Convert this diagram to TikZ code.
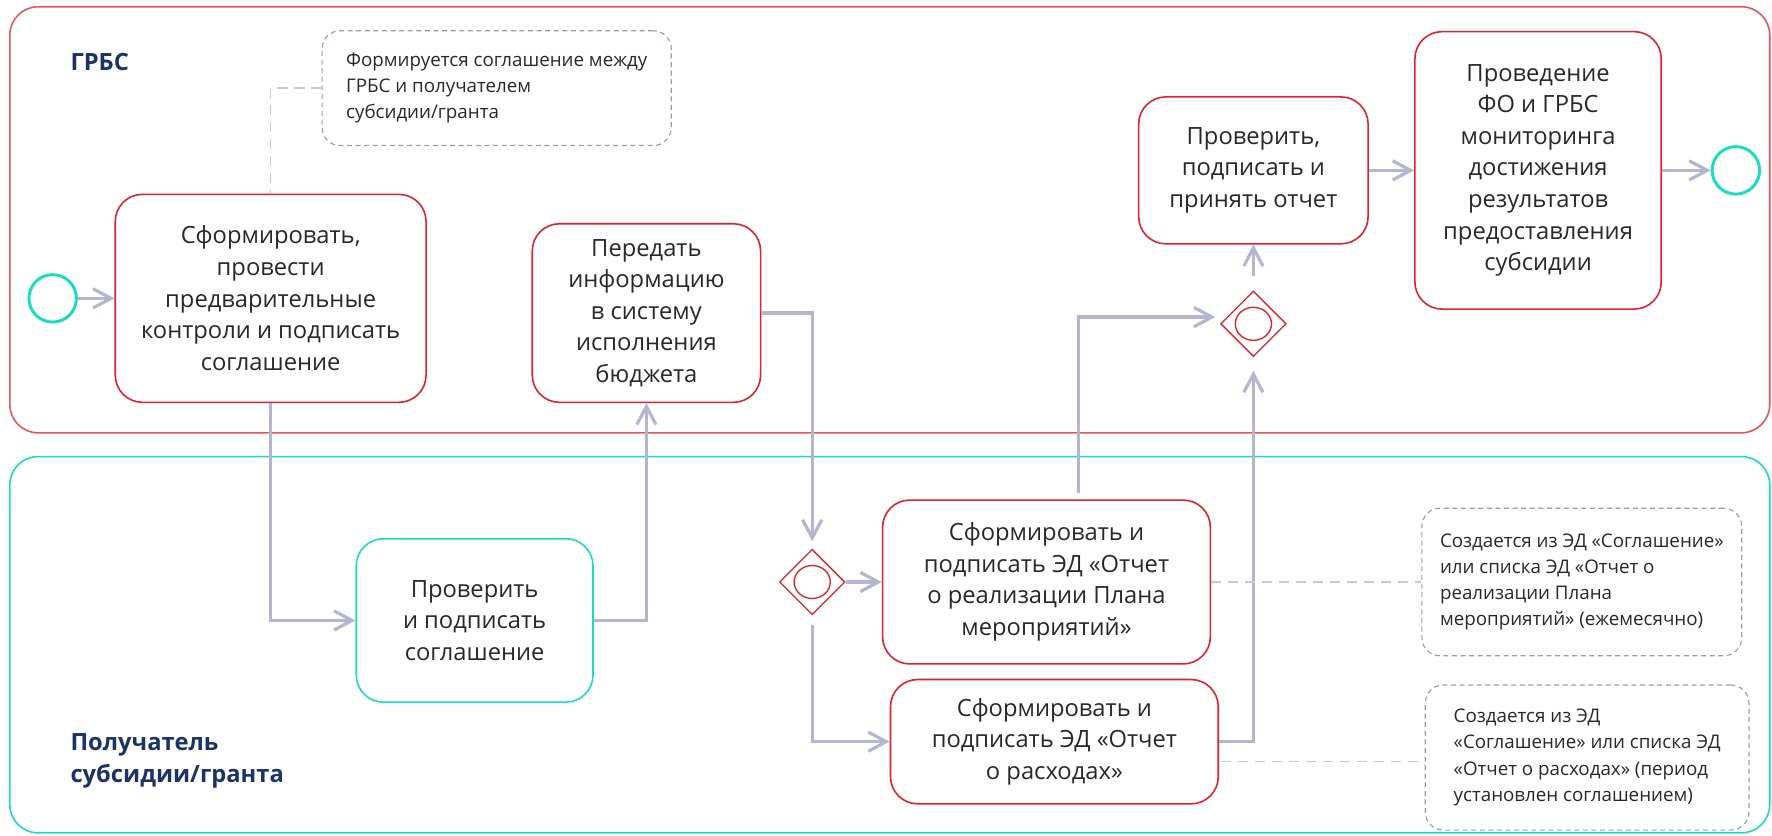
\documentclass[tikz,border=0pt]{standalone}
\usepackage{fontspec}
\setmainfont{Open Sans}
\usepackage{xcolor}
\usepackage{tikz}
\usetikzlibrary{
    arrows.meta,
    positioning,
    shapes.geometric
}

\definecolor{laneRed}{RGB}{232,84,94}
\definecolor{boxRed}{RGB}{228,32,46}
\definecolor{laneTeal}{RGB}{24,222,192}
\definecolor{flowGray}{RGB}{180,182,205}
\definecolor{noteGray}{RGB}{150,156,182}
\definecolor{linkGray}{RGB}{200,202,220}
\definecolor{labelNavy}{RGB}{28,52,100}
\definecolor{textGray}{RGB}{40,40,40}

\begin{document}
\begin{tikzpicture}[
    x=0.5pt, y=-0.5pt,
    >={Straight Barb[length=8pt,width=8.5pt]},
    lane_style/.style={
        rounded corners=12.5pt,
        line width=0.7pt
    },
    lane_label/.style={
        anchor=west,
        align=left,
        inner sep=0pt,
        text=labelNavy,
        font=\bfseries\fontsize{10.5pt}{14pt}\selectfont
    },
    task_style/.style={
        draw=boxRed,
        line width=0.7pt,
        rounded corners=12pt,
        align=center,
        inner sep=0pt,
        text=textGray,
        font=\fontsize{10.5pt}{14pt}\selectfont
    },
    event_style/.style={
        circle,
        draw=laneTeal,
        line width=1.3pt,
        minimum size=21pt,
        inner sep=0pt
    },
    gate_style/.style={
        diamond,
        draw=boxRed,
        line width=0.6pt,
        minimum width=29pt,
        minimum height=29pt,
        inner sep=0pt
    },
    note_style/.style={
        draw=noteGray,
        dash pattern=on 2.2pt off 1.6pt,
        line width=0.5pt,
        rounded corners=8pt,
        align=left,
        inner sep=0pt,
        text=textGray,
        font=\fontsize{8.3pt}{11.6pt}\selectfont
    },
    flow_style/.style={
        draw=flowGray,
        line width=1.4pt,
        ->
    },
    link_style/.style={
        draw=linkGray,
        dash pattern=on 4.5pt off 3pt,
        line width=0.7pt
    }
]
\useasboundingbox (0,0) rectangle (1568,739);

% --- Lanes ---
\draw[lane_style, draw=laneRed] (8.7,6) rectangle (1566,383);
\draw[lane_style, draw=laneTeal] (8.7,404) rectangle (1566,737);

\node[lane_label] (GRBS) at (62,55) {ГРБС};
\node[lane_label] (Recipient) at (62,673) {Получатель\\субсидии/гранта};

% --- Nodes ---
\node[task_style, minimum width=137.5pt, minimum height=92pt] (Sign) at (239.5,264)
    {Сформировать,\\провести\\предварительные\\контроли и подписать\\соглашение};
\node[event_style, left=16.2pt of Sign] (Start) {};

\node[note_style, minimum width=154.5pt, minimum height=50.8pt] (Note1) at (439.5,78)
    {Формируется соглашение между\\ГРБС и получателем\\субсидии/гранта};

\node[task_style, minimum width=101pt, minimum height=79pt] (Transfer) at (572,277)
    {Передать\\информацию\\в систему\\исполнения\\бюджета};

% recipient agrees in its own lane
\node[task_style, draw=laneTeal, minimum width=104.75pt, minimum height=72.3pt] (Agree) at (420,549)
    {Проверить\\и подписать\\соглашение};

% the two reports
\node[task_style, minimum width=145pt, minimum height=72.5pt] (Plan) at (926,515)
    {Сформировать и\\подписать ЭД «Отчет\\о реализации Плана\\мероприятий»};
\node[task_style, minimum width=145pt, minimum height=55pt, below=6.2pt of Plan, xshift=3.5pt] (Report)
    {Сформировать и\\подписать ЭД «Отчет\\о расходах»};
\node[gate_style, left=16pt of Plan] (Split) {};

\node[note_style, minimum width=141.5pt, minimum height=65.3pt, right=93pt of Plan] (Note2)
    {Создается из ЭД «Соглашение»\\или списка ЭД «Отчет о\\реализации Плана\\мероприятий» (ежемесячно)};
\node[note_style, minimum width=143.2pt, minimum height=64.2pt, right=91pt of Report, yshift=-7pt] (Note3)
    {Создается из ЭД\\«Соглашение» или списка ЭД\\«Отчет о расходах» (период\\установлен соглашением)};

% GRBS side again
\node[task_style, minimum width=109pt, minimum height=122.75pt] (Monitor) at (1361,150.75)
    {Проведение\\ФО и ГРБС\\мониторинга\\достижения\\результатов\\предоставления\\субсидии};
\node[task_style, minimum width=101.5pt, minimum height=65pt, left=20pt of Monitor] (Check)
    {Проверить,\\подписать и\\принять отчет};
\node[gate_style, below=20.25pt of Check] (Join) {};
\node[event_style, right=21.5pt of Monitor] (End) {};

% inner marks of the gateways
\draw[boxRed, line width=0.6pt] (Split) ellipse [x radius=16, y radius=14.6];
\draw[boxRed, line width=0.6pt] (Join) ellipse [x radius=16, y radius=14.6];

% --- Edges ---
\draw[flow_style] (Start) -- (Sign);
\draw[flow_style] (Sign.south) |- (Agree.west);
\draw[flow_style] (Agree.east) -| (Transfer.south);
\draw[flow_style, shorten >=3.25pt] (Transfer.east) -| (Split.north);
\draw[flow_style] (Split.east) -- (Plan.west);
\draw[flow_style, shorten <=4.3pt] (Split.south) |- (Report.west);

\draw[flow_style, shorten <=2.75pt, shorten >=2pt] ([xshift=14.25pt]Plan.north) |- ([yshift=3pt]Join.west);
\draw[flow_style, shorten >=6pt] (Report.east) -| (Join.south);
\draw[flow_style, shorten <=6.5pt] (Join.north) -- (Check.south);
\draw[flow_style] (Check) -- (Monitor);
\draw[flow_style] (Monitor) -- (End);

% notes
\coordinate (R_out) at ([yshift=-8.8pt, xshift=1pt]Report.east);
\draw[link_style] (Note1.west) -| (Sign.north);
\draw[link_style] (Plan.east) -- (Note2.west);
\draw[link_style] (R_out) -- (R_out -| Note3.west);

\end{tikzpicture}
\end{document}
